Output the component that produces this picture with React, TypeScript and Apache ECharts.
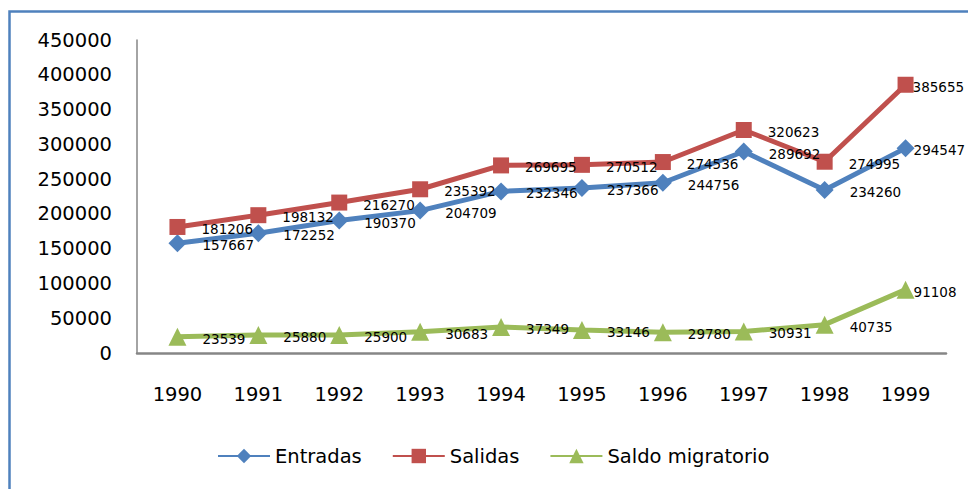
import React, { useEffect, useRef } from "react";
import * as echarts from "echarts";

const years = ["1990", "1991", "1992", "1993", "1994", "1995", "1996", "1997", "1998", "1999"];
const entradas = [157667, 172252, 190370, 204709, 232346, 237366, 244756, 289692, 234260, 294547];
const salidas = [181206, 198132, 216270, 235392, 269695, 270512, 274536, 320623, 274995, 385655];
const saldo = [23539, 25880, 25900, 30683, 37349, 33146, 29780, 30931, 40735, 91108];

const FONT = "DejaVu Sans";

// last point's label is pulled in so it stays inside the chart, as in the reference
const withLastLabel = (values: number[]) =>
  values.map((v, i) =>
    i === values.length - 1 ? { value: v, label: { distance: -1 } } : v
  );

export default function App() {
  const ref = useRef<HTMLDivElement>(null);
  useEffect(() => {
    if (!ref.current) return;
    const chart = echarts.init(ref.current, null, { renderer: "svg" });
    const label = {
      show: true,
      position: "right" as const,
      distance: 16,
      offset: [0, 2],
      color: "#000",
      fontFamily: FONT,
      fontSize: 13.5,
    };
    chart.setOption({
      animation: false,
      backgroundColor: "#fff",
      graphic: [
        {
          type: "rect",
          shape: { x: 9.5, y: 11.5, width: 1200, height: 1200 },
          style: { fill: "none", stroke: "#4f81bd", lineWidth: 2.5 },
          silent: true,
        },
      ],
      grid: { left: 137, right: 22, top: 40, bottom: 136 },
      legend: {
        left: 217,
        top: 446,
        padding: 0,
        itemWidth: 52,
        itemHeight: 18,
        itemGap: 30,
        textStyle: { fontFamily: FONT, fontSize: 19.5, color: "#000" },
        data: ["Entradas", "Salidas", "Saldo migratorio"],
      },
      xAxis: {
        type: "category",
        data: years,
        boundaryGap: true,
        axisLine: { lineStyle: { color: "#868686", width: 2.5 } },
        axisTick: { show: false },
        axisLabel: { margin: 31, color: "#000", fontFamily: FONT, fontSize: 19.5 },
      },
      yAxis: {
        type: "value",
        min: 0,
        max: 450000,
        interval: 50000,
        axisLine: { show: true, lineStyle: { color: "#868686", width: 1.5 } },
        axisTick: { show: false },
        splitLine: { show: false },
        axisLabel: {
          margin: 25,
          color: "#000",
          fontFamily: FONT,
          fontSize: 19.5,
          formatter: (v: number) => String(v),
        },
      },
      series: [
        {
          name: "Entradas",
          type: "line",
          data: withLastLabel(entradas),
          symbol: "diamond",
          symbolSize: 18,
          lineStyle: { width: 5, color: "#4f81bd" },
          itemStyle: { color: "#4f81bd" },
          label,
        },
        {
          name: "Salidas",
          type: "line",
          data: withLastLabel(salidas),
          symbol: "rect",
          symbolSize: 16,
          lineStyle: { width: 5, color: "#c0504d" },
          itemStyle: { color: "#c0504d" },
          label,
        },
        {
          name: "Saldo migratorio",
          type: "line",
          data: withLastLabel(saldo),
          symbol: "triangle",
          symbolSize: 18,
          lineStyle: { width: 5, color: "#9bbb59" },
          itemStyle: { color: "#9bbb59" },
          label,
        },
      ],
    });
    return () => chart.dispose();
  }, []);
  return (
    <div
      ref={ref}
      style={{ position: "fixed", left: 0, top: 0, width: 968, height: 489 }}
    />
  );
}
